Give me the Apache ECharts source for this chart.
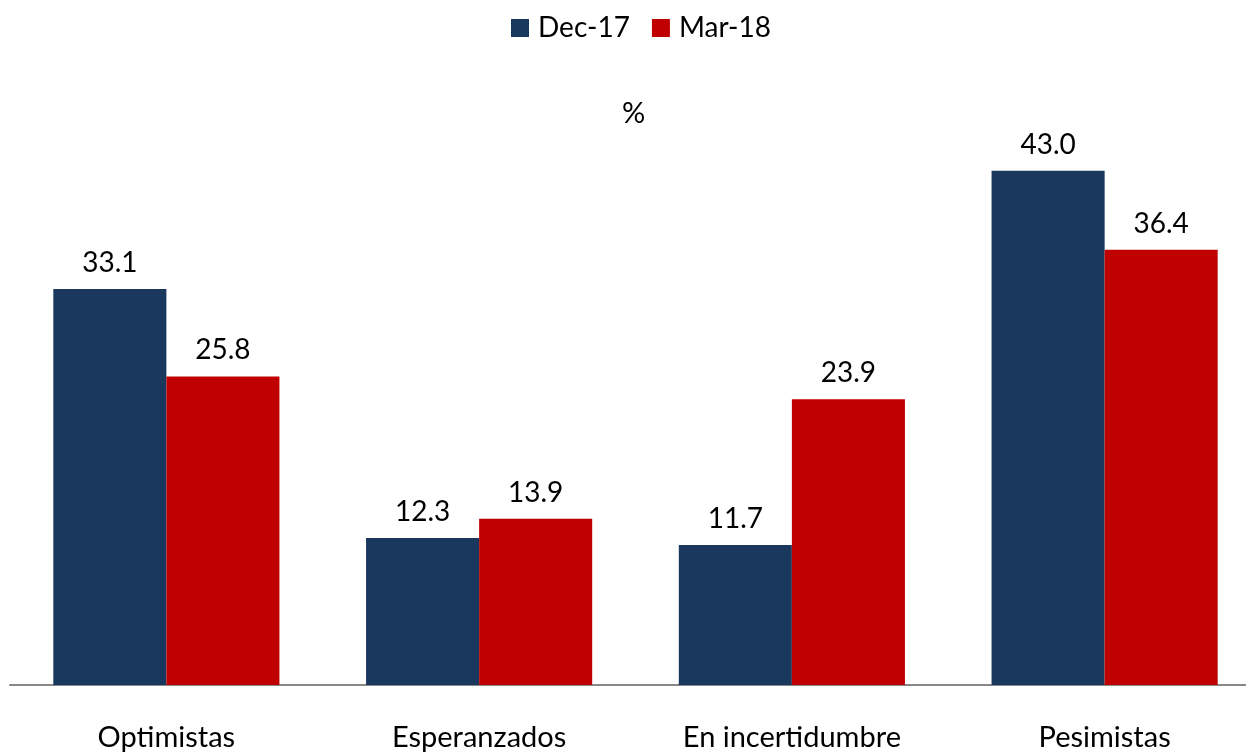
<!DOCTYPE html>
<html>
<head>
<meta charset="utf-8">
<script src="https://cdn.jsdelivr.net/npm/echarts@6/dist/echarts.min.js"></script>
<style>
	html, body { margin: 0; padding: 0; background: #fff; }
	#chart { width: 1246px; height: 754px; }
</style>
</head>
<body>
<div id="chart"></div>
<script>
	'use strict'

	var categories = ['Optimistas', 'Esperanzados', 'En incertidumbre', 'Pesimistas'];
	var dec17 = [33.1, 12.3, 11.7, 43.0];
	var mar18 = [25.8, 13.9, 23.9, 36.4];
	var seriesNames = ['Dec-17', 'Mar-18'];

	var font = 'Lato';
	var labelStyle = {
		show: true,
		position: 'top',
		distance: 12,
		fontSize: 28,
		fontFamily: font,
		color: '#000',
		formatter: function(p) { return p.value.toFixed(1); }
	};

	var option = {
		animation: false,
		title: {
			text: '%',
			left: 617,
			top: 94,
			textStyle: { fontSize: 29, fontWeight: 'normal', fontFamily: font, color: '#000' }
		},
		legend: {
			top: 9,
			left: 506,
			itemWidth: 18,
			itemHeight: 18,
			itemGap: 22,
			icon: 'rect',
			textStyle: { fontSize: 28, fontFamily: font, color: '#000', padding: [0, 0, 0, 4] },
			data: seriesNames
		},
		grid: {
			top: 87,
			left: 10,
			width: 1251,
			height: 598,
			outerBoundsMode: 'none'
		},
		xAxis: {
			type: 'category',
			data: categories,
			axisLine: { lineStyle: { color: '#888', width: 2 } },
			axisTick: { show: false },
			axisLabel: { fontSize: 29, fontFamily: font, color: '#000', margin: 38 }
		},
		yAxis: {
			type: 'value',
			min: 0,
			max: 50,
			show: false,
			splitLine: { show: false }
		},
		series: [{
			name: seriesNames[0],
			type: 'bar',
			data: dec17,
			barGap: 0,
			barCategoryGap: '27.7%',
			itemStyle: { color: '#1a375e' },
			label: labelStyle
		}, {
			name: seriesNames[1],
			type: 'bar',
			data: mar18,
			itemStyle: { color: '#c00000' },
			label: labelStyle
		}]
	};

	var chart = echarts.init(document.getElementById('chart'));
	chart.setOption(option);
</script>
</body>
</html>
